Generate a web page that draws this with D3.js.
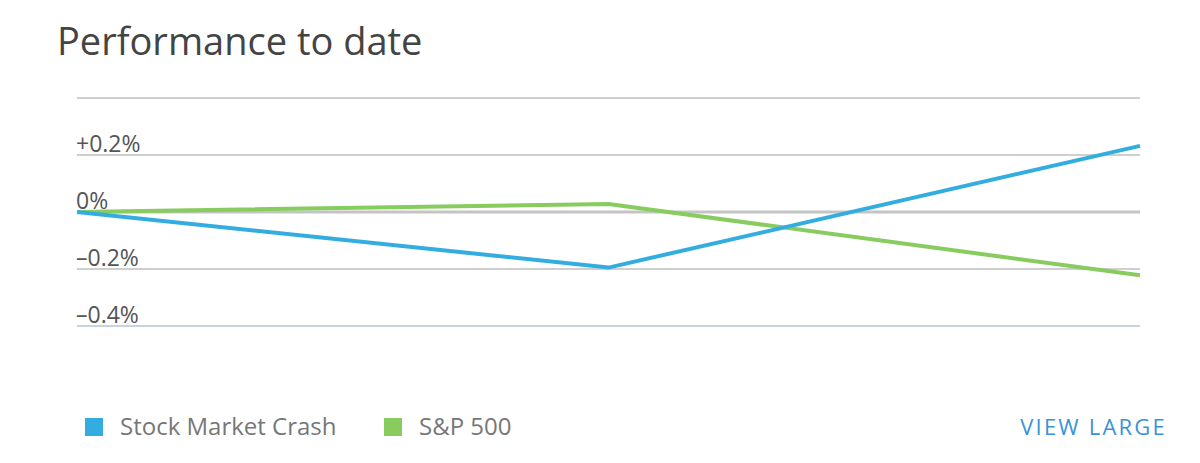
<!DOCTYPE html>
<html><head><meta charset="utf-8">
<script src="https://cdn.jsdelivr.net/npm/d3@7"></script>
<style>
html,body{margin:0;padding:0;background:#fff;}
svg{display:block;font-family:"Open Sans",sans-serif;}
</style></head>
<body><svg id="c" width="1200" height="463"></svg>
<script>
const periods = ["start", "mid", "end"];
const crashValues = [0, -0.195, 0.232];
const sp500Values = [0, 0.028, -0.222];
const tickValues = [0.4, 0.2, 0, -0.2, -0.4];
const tickLabels = ["", "+0.2%", "0%", "\u20130.2%", "\u20130.4%"];
const seriesNames = ["Stock Market Crash", "S&P 500"];
const seriesColors = ["#33ade0", "#88cc5f"];

const svg = d3.select("#c");
const x = d3.scalePoint().domain(periods).range([77, 1140]);
const y = d3.scaleLinear().domain([-0.4, 0.4]).range([326, 98]);

svg.append("text").attr("x", 57).attr("y", 55)
  .attr("font-size", 38).attr("fill", "#444").text("Performance to date");

const g = svg.append("g");
tickValues.forEach((v, i) => {
  const yy = y(v);
  g.append("line").attr("x1", 77).attr("x2", 1140).attr("y1", yy).attr("y2", yy)
    .attr("stroke", v === 0 ? "#c4c4c4" : (v === -0.4 ? "#c9d3de" : "#cfcfcf"))
    .attr("stroke-width", v === 0 ? 3 : 2);
  if (tickLabels[i]) {
    g.append("text").attr("x", 76).attr("y", yy - 3)
      .attr("font-size", 23).attr("fill", "#555").text(tickLabels[i]);
  }
});

const line = d3.line().x((d, i) => x(periods[i])).y(d => y(d));
[sp500Values, crashValues].forEach((vals, k) => {
  const idx = k === 0 ? 1 : 0;
  svg.append("path").attr("d", line(vals)).attr("fill", "none")
    .attr("stroke", seriesColors[idx]).attr("stroke-width", 4)
    .attr("stroke-linejoin", "miter");
});

const legX = [85, 384];
seriesNames.forEach((n, i) => {
  svg.append("rect").attr("x", legX[i]).attr("y", 418).attr("width", 18).attr("height", 18)
    .attr("fill", seriesColors[i]);
  svg.append("text").attr("x", legX[i] + 35).attr("y", 435)
    .attr("font-size", 24).attr("fill", "#777").text(n);
});

svg.append("text").attr("x", 1167).attr("y", 435).attr("text-anchor", "end")
  .attr("font-size", 22).attr("letter-spacing", 2.2).attr("fill", "#3a93d8").text("VIEW LARGE");
</script></body></html>
